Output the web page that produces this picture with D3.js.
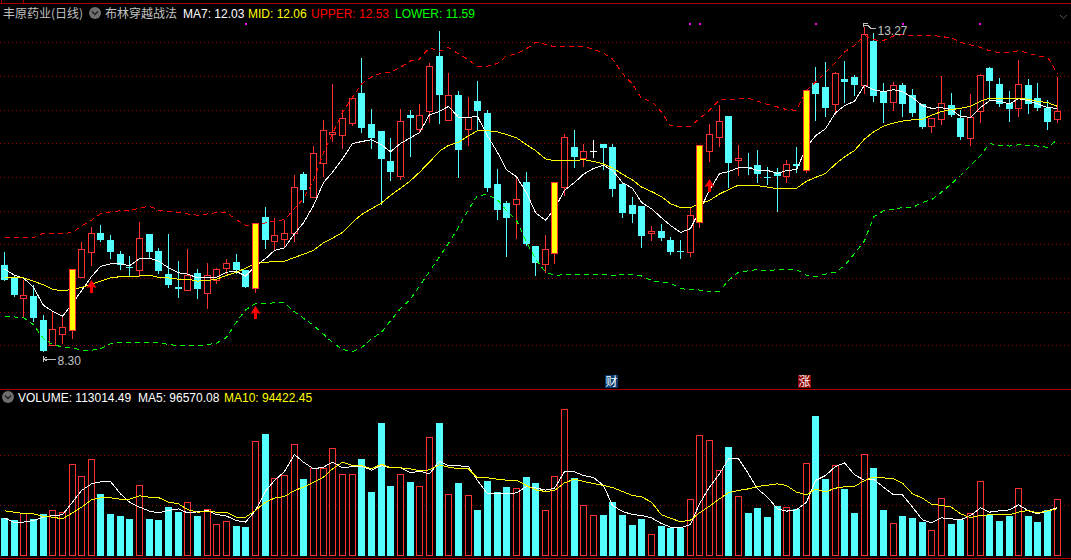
<!DOCTYPE html>
<html>
<head>
<meta charset="utf-8">
<script src="https://cdnjs.cloudflare.com/ajax/libs/d3/7.8.5/d3.min.js"></script>
<style>
    html, body { margin: 0; padding: 0; background: #000; overflow: hidden; }
    svg { display: block; }
    text { font-family: "Liberation Sans", Arial, sans-serif; font-size: 12px; }
    .cjk { font-family: "Noto Sans CJK SC", sans-serif; }
    .grid line { stroke: #960000; stroke-dasharray: 1,3; }
    .grid path { display: none; }
    .crisp { shape-rendering: crispEdges; }
</style>
</head>
<body>
<svg id="chart" width="1071" height="560"></svg>
<script>
let opens = [9.64,9.44,9.13,9.16,8.78,8.39,8.57,8.63,9.46,9.85,
    10.14,10.03,9.82,9.61,9.57,10.13,9.86,9.51,9.30,9.26,
    9.52,9.21,9.41,9.60,9.69,9.57,9.28,10.39,10.02,10.05,
    10.15,11.07,10.70,11.23,11.69,11.68,11.87,12.33,11.85,11.74,
    11.27,11.03,11.99,11.77,12.05,12.91,11.91,12.30,11.77,12.21,
    12.02,10.91,10.61,10.59,10.94,9.94,9.66,9.83,10.86,11.49,
    11.32,11.43,11.53,11.49,10.91,10.58,10.57,10.15,10.17,10.03,
    9.86,9.84,10.31,11.43,11.65,11.97,11.29,11.17,11.21,11.02,
    11.10,11.04,11.22,11.13,12.49,12.43,12.16,12.55,12.58,12.46,
    13.14,12.36,12.19,12.46,12.30,12.16,11.82,11.93,12.14,11.94,
    11.63,12.05,12.72,12.47,12.17,12.10,12.46,12.25,12.10,11.93];
let closes = [9.41,9.17,9.17,8.81,8.30,8.64,8.67,9.58,9.90,10.15,
    10.03,9.85,9.65,9.59,10.06,9.85,9.55,9.33,9.27,9.49,
    9.27,9.48,9.58,9.67,9.56,9.30,10.30,10.03,10.11,10.15,
    10.86,10.82,11.39,11.76,11.72,11.94,12.26,11.78,11.63,11.30,
    11.10,11.90,11.94,11.98,12.76,12.30,12.30,11.44,11.96,12.05,
    10.85,10.50,10.38,10.67,9.97,9.67,9.90,10.94,11.64,11.33,
    11.43,11.43,11.47,10.83,10.46,10.44,10.10,10.17,10.07,9.85,
    9.85,10.42,11.52,11.69,11.89,11.24,11.31,11.16,11.07,11.00,
    11.03,11.22,11.19,12.38,12.32,12.10,12.65,12.50,12.46,13.26,
    12.28,12.17,12.45,12.16,12.02,11.80,11.94,12.17,11.99,11.64,
    11.95,12.61,12.52,12.16,12.08,12.47,12.16,12.10,11.88,12.05];
let highs = [9.85,9.49,9.41,9.33,8.86,8.91,8.83,9.58,10.01,10.23,
    10.27,10.11,9.87,9.78,10.31,10.13,9.91,10.13,9.71,9.89,
    9.58,9.67,9.60,9.74,9.82,9.57,10.30,10.55,10.38,10.35,
    11.05,11.09,11.50,11.91,12.47,12.07,12.28,12.88,12.08,11.74,
    11.63,12.08,12.07,12.16,12.80,13.30,12.64,12.36,12.27,12.52,
    12.07,11.14,10.64,11.02,11.10,9.94,10.11,10.94,11.69,11.75,
    11.53,11.60,11.53,11.53,10.92,10.71,10.57,10.25,10.28,10.08,
    10.03,10.55,11.52,11.85,12.14,11.97,11.52,11.39,11.44,11.17,
    11.16,11.28,11.49,12.38,12.74,12.82,12.66,12.83,12.61,13.36,
    13.27,12.49,12.50,12.49,12.39,12.16,11.94,12.60,12.33,12.07,
    12.32,12.63,12.74,12.57,12.36,12.85,12.55,12.49,12.22,12.58];
let lows = [9.41,9.16,8.85,8.77,8.30,8.39,8.42,8.50,9.46,9.64,
    10.02,9.75,9.58,9.49,9.47,9.75,9.52,9.30,9.14,9.26,
    9.13,8.97,9.36,9.52,9.52,9.30,9.22,9.91,9.88,9.93,
    10.02,10.63,10.70,11.03,11.58,11.47,11.83,11.72,11.47,10.60,
    10.97,10.99,11.35,11.72,11.88,11.86,11.91,11.02,11.52,11.75,
    10.80,10.36,9.78,10.07,9.96,9.49,9.53,9.67,10.74,11.17,
    11.19,11.33,11.14,10.72,10.39,10.31,9.92,10.03,10.03,9.81,
    9.75,9.78,10.24,11.27,11.50,10.86,11.05,11.07,10.94,10.91,
    10.49,10.94,11.10,11.10,11.91,11.97,12.00,12.19,12.30,12.33,
    12.21,11.88,12.07,11.97,11.97,11.78,11.72,11.85,11.97,11.61,
    11.52,11.88,12.24,12.13,11.89,11.97,12.02,12.07,11.77,11.88];

let ma7 = [9.59,9.49,9.45,9.30,9.02,8.93,8.85,9.05,9.25,9.47,
    9.63,9.67,9.67,9.64,9.75,9.76,9.71,9.61,9.53,9.51,
    9.45,9.45,9.46,9.54,9.55,9.48,9.64,9.75,9.88,9.92,
    10.14,10.31,10.58,10.94,11.10,11.31,11.55,11.58,11.61,11.53,
    11.42,11.55,11.64,11.72,12.00,12.05,12.13,11.96,11.96,11.97,
    11.67,11.41,11.14,11.03,10.78,10.47,10.35,10.53,10.82,10.94,
    11.07,11.16,11.21,11.13,10.94,10.85,10.63,10.53,10.39,10.27,
    10.16,10.22,10.50,10.82,11.08,11.11,11.17,11.17,11.13,11.13,
    11.08,11.13,11.14,11.49,11.67,11.78,12.03,12.14,12.21,12.46,
    12.39,12.36,12.39,12.36,12.27,12.14,12.10,12.11,12.08,11.97,
    11.96,12.11,12.22,12.21,12.17,12.25,12.22,12.17,12.11,12.10];
let mid = [9.46,9.46,9.45,9.40,9.34,9.27,9.25,9.27,9.30,9.35,
    9.40,9.45,9.47,9.47,9.48,9.49,9.46,9.45,9.43,9.43,
    9.40,9.41,9.43,9.49,9.54,9.60,9.68,9.69,9.71,9.71,
    9.77,9.82,9.88,10.00,10.07,10.16,10.32,10.44,10.53,10.62,
    10.74,10.85,10.97,11.10,11.26,11.43,11.52,11.57,11.67,11.75,
    11.75,11.73,11.69,11.64,11.53,11.44,11.31,11.28,11.28,11.28,
    11.30,11.27,11.23,11.17,11.07,10.98,10.87,10.80,10.72,10.61,
    10.55,10.55,10.61,10.66,10.76,10.83,10.90,10.90,10.89,10.87,
    10.84,10.84,10.85,10.96,11.02,11.08,11.23,11.34,11.44,11.62,
    11.73,11.82,11.87,11.90,11.92,11.93,11.99,12.05,12.08,12.10,
    12.13,12.21,12.26,12.25,12.25,12.26,12.24,12.21,12.19,12.13];
let upper = [10.08,10.08,10.08,10.08,10.15,10.14,10.14,10.16,10.26,10.35,
    10.45,10.48,10.50,10.50,10.54,10.57,10.51,10.49,10.47,10.45,
    10.43,10.45,10.47,10.47,10.36,10.27,10.28,10.31,10.34,10.36,
    10.53,10.69,10.97,11.41,11.70,12.04,12.27,12.48,12.59,12.65,
    12.66,12.74,12.84,12.87,13.05,12.99,13.05,12.95,12.86,12.75,
    12.76,12.80,12.92,12.95,13.03,13.13,13.10,13.06,13.06,13.06,
    13.07,13.02,12.96,12.87,12.64,12.48,12.25,12.21,12.04,11.83,
    11.82,11.82,11.94,12.07,12.23,12.23,12.25,12.26,12.21,12.16,
    12.12,12.08,12.07,12.38,12.51,12.66,12.82,12.98,13.08,13.24,
    13.17,13.16,13.23,13.25,13.24,13.24,13.24,13.22,13.20,13.13,
    13.09,13.05,13.00,12.97,12.97,13.00,12.96,12.92,12.90,12.64];
let lower = [8.84,8.84,8.83,8.72,8.50,8.41,8.37,8.36,8.32,8.32,
    8.34,8.42,8.44,8.44,8.44,8.44,8.44,8.41,8.39,8.39,
    8.39,8.41,8.43,8.52,8.76,8.95,9.05,9.05,9.06,9.06,
    8.92,8.82,8.71,8.57,8.44,8.33,8.30,8.36,8.50,8.60,
    8.78,8.97,9.12,9.32,9.55,9.78,9.99,10.24,10.52,10.74,
    10.75,10.67,10.50,10.35,10.01,9.75,9.54,9.49,9.50,9.50,
    9.50,9.51,9.51,9.48,9.51,9.50,9.48,9.41,9.38,9.37,
    9.28,9.27,9.26,9.24,9.24,9.41,9.54,9.56,9.58,9.56,
    9.58,9.59,9.58,9.49,9.47,9.51,9.54,9.64,9.83,10.03,
    10.40,10.50,10.52,10.55,10.55,10.63,10.67,10.79,10.92,11.05,
    11.21,11.36,11.55,11.52,11.51,11.53,11.52,11.51,11.49,11.61];

let volume = [75000,71000,85600,72400,83000,90400,86400,182400,158400,192400,
    123000,83000,79000,73000,140400,73000,71000,97000,87000,106400,
    79000,92400,62400,68400,59000,57000,228400,243000,154400,160400,
    222400,153000,174400,174400,214400,162400,162400,193000,127000,265000,
    139000,162400,147000,138400,236400,265000,122400,145000,120400,91000,
    149000,127000,137000,134400,157000,145000,90400,158400,292400,155000,
    100400,80400,81000,107000,81000,61000,73000,42400,59000,55000,
    55000,112400,240400,230400,170400,217000,118400,85000,95000,77000,
    99000,96400,93000,184400,279000,153000,180400,133000,85000,202400,
    175000,91000,64400,79000,75000,67000,50400,114400,63000,71000,
    84400,148400,81000,69000,79000,134400,79000,67000,91000,113014];
let volMa5 = [75700,67000,67700,71000,77700,81000,82300,107700,131000,144300,
    148300,149000,124300,107700,97700,89700,86300,91000,94300,86300,
    88300,91000,83000,79700,71000,67700,91000,129700,151000,169000,
    203000,187700,174300,177700,187700,176300,179000,179700,171700,181000,
    176300,176300,166300,169700,164300,189700,180300,180300,179000,151000,
    124300,125700,124300,126300,139000,136300,131700,135700,168300,168300,
    161000,157000,141000,101000,89000,83000,81000,76300,65000,57700,
    56300,63000,104300,137700,164300,194300,194300,164300,134300,117700,
    94300,89700,92300,107700,151000,161000,179000,186300,162300,151700,
    153700,137700,122300,122300,97700,72300,66300,76300,74300,72300,
    81000,96300,87700,90300,92300,102300,90300,84300,90300,96570];
let volMa10 = [90300,87700,85000,84300,79000,77700,74300,86300,97700,112300,
    116300,116300,113700,113700,120300,117700,117000,107700,104300,93000,
    87700,89000,87700,87700,77700,77700,91000,107700,115700,119000,
    131000,137700,147700,157700,174300,187700,181000,181000,174300,183700,
    176300,176300,174300,170300,172300,182300,177700,174300,174300,156300,
    156300,153700,151700,151700,141000,132300,129000,131000,146300,153700,
    149000,145000,141000,137000,129000,121000,118300,107700,82300,75700,
    68300,71700,86300,99700,114300,127000,131000,134300,139000,141700,
    144300,141000,127700,122300,133700,128300,135700,138300,139000,151000,
    157700,156300,154300,145700,124300,115700,103700,101000,97700,84300,
    77000,81000,82300,82300,82300,87700,91000,86300,90300,94422];

let barCount = opens.length;
let breakouts = [7, 26, 57, 72, 83];       // yellow candles
let buySignals = [9, 26, 73];              // red up arrows
let buyPrices = [9.41, 9.00, 10.99];
let eventDots = [25, 71, 72, 84, 93, 101]; // magenta marks under the header
let eventPrice = 13.42;
let priceTicks = [13.13, 12.60, 12.07, 11.55, 11.02, 10.49, 9.97, 9.44, 8.91, 8.39];
let volumeTicks = [200000, 100000];

let header = [
    {text: 'MA7: 12.03', color: '#fff', x: 183},
    {text: 'MID: 12.06', color: '#ff0', x: 248},
    {text: 'UPPER: 12.53', color: '#f00', x: 311},
    {text: 'LOWER: 11.59', color: '#0f0', x: 395}
];
let volHeader = [
    {text: 'VOLUME: 113014.49', color: '#fff', x: 18},
    {text: 'MA5: 96570.08', color: '#fff', x: 138},
    {text: 'MA10: 94422.45', color: '#ff0', x: 224}
];
let badges = [
    {text: '财', bar: 63, fill: '#003a6e'},
    {text: '涨', bar: 83, fill: '#8c0000'}
];

let red = '#ff3232';
let cyan = '#54ffff';
let grey = '#c0c0c0';

let svg = d3.select('#chart');
svg.append('rect').attr('width', 1071).attr('height', 560).attr('fill', '#000');

let xScale = d3.scalePoint().domain(d3.range(barCount)).range([4.4, 1057.3]);
let yScale = d3.scaleLinear().domain([8.3, 13.3]).range([351, 31]);
let volScale = d3.scaleLinear().domain([0, 250000]).range([555.5, 430.5]);
let px = i => Math.floor(xScale(i)) + 0.5;

// frame lines
[3, 389, 558].forEach(y => {
    svg.append('line').attr('class', 'crisp')
        .attr('x1', 0).attr('x2', 1071).attr('y1', y + 0.5).attr('y2', y + 0.5)
        .attr('stroke', '#a80000');
});
[1, 23].forEach(x => {
    svg.append('line').attr('class', 'crisp')
        .attr('x1', x + 0.5).attr('x2', x + 0.5).attr('y1', 0).attr('y2', 3)
        .attr('stroke', '#a80000');
});

// grids, ticks snapped onto whole pixels so the dots stay one pixel wide
function drawGrid(scale, ticks) {
    let g = svg.append('g').attr('class', 'grid')
        .call(d3.axisRight(scale).tickValues(ticks).tickSize(1071).tickFormat(''));
    g.selectAll('.tick')
        .attr('transform', d => 'translate(0,' + (Math.round(scale(d) - 0.01) + 0.5) + ')');
    g.selectAll('text').remove();
}
drawGrid(yScale, priceTicks);
drawGrid(volScale, volumeTicks);

function candleColor(i) {
    if (closes[i] === opens[i]) return '#fff';
    return closes[i] > opens[i] ? red : cyan;
}

function drawCandle(g, i) {
    let x = px(i);
    let top = Math.round(yScale(Math.max(opens[i], closes[i])));
    let bottom = Math.round(yScale(Math.min(opens[i], closes[i])));
    let color = candleColor(i);
    let fat = breakouts.includes(i);
    g.append('line').attr('x1', x).attr('x2', x)
        .attr('y1', Math.round(yScale(highs[i]))).attr('y2', Math.round(yScale(lows[i])) + 1)
        .attr('stroke', color);
    if (color === cyan) {
        g.append('rect').attr('x', x - 3.5).attr('y', top)
            .attr('width', 7).attr('height', Math.max(bottom - top, 1))
            .attr('fill', cyan);
    } else if (color === red) {
        g.append('rect').attr('x', x - 3).attr('y', top + 0.5)
            .attr('width', 6).attr('height', Math.max(bottom - top, 1))
            .attr('fill', fat ? '#ff0' : '#000').attr('stroke', red);
    } else {
        g.append('line').attr('x1', x - 3.5).attr('x2', x + 3.5)
            .attr('y1', top + 0.5).attr('y2', top + 0.5).attr('stroke', color);
    }
}

let candles = svg.append('g').attr('class', 'crisp');
d3.range(barCount).filter(i => !breakouts.includes(i)).forEach(i => drawCandle(candles, i));

// price lines
let priceLine = d3.line().x((d, i) => px(i)).y(d => yScale(d) + 0.5);
let lineG = svg.append('g').attr('class', 'crisp').attr('fill', 'none');
lineG.append('path').attr('d', priceLine(ma7)).attr('stroke', '#fff');
lineG.append('path').attr('d', priceLine(mid)).attr('stroke', '#ff0');
lineG.append('path').attr('d', priceLine(upper)).attr('stroke', '#f00').attr('stroke-dasharray', '5,4');
lineG.append('path').attr('d', priceLine(lower)).attr('stroke', '#0f0').attr('stroke-dasharray', '5,4');

// breakout candles sit on top of the lines
let fatG = svg.append('g').attr('class', 'crisp');
breakouts.forEach(i => drawCandle(fatG, i));

// buy arrows
let arrows = svg.append('g');
buySignals.forEach((b, k) => {
    let x = px(b);
    let y = Math.round(yScale(buyPrices[k]));
    arrows.append('path')
        .attr('d', d3.line()([[x, y], [x + 5, y + 8], [x + 1.5, y + 7], [x + 1.5, y + 13],
            [x - 1.5, y + 13], [x - 1.5, y + 7], [x - 5, y + 8]]) + 'Z')
        .attr('fill', '#f00');
});

// magenta marks
svg.append('g').selectAll('rect').data(eventDots).enter().append('rect')
    .attr('x', d => Math.round(xScale(d)) - 1)
    .attr('y', d => Math.round(yScale(eventPrice)))
    .attr('width', 2).attr('height', 2)
    .attr('fill', '#f0f');

// high / low annotations
let lowIdx = d3.leastIndex(lows);
let highIdx = d3.greatestIndex(highs);
let lowX = px(lowIdx), lowY = Math.round(yScale(lows[lowIdx]));
let highX = px(highIdx), highY = Math.round(yScale(highs[highIdx]));
let note = svg.append('g').attr('class', 'crisp').attr('fill', 'none').attr('stroke', grey);
note.append('path').attr('d', `M${lowX},${lowY + 5}V${lowY + 11}M${lowX},${lowY + 8}H${lowX + 12}`);
note.append('path').attr('d', `M${lowX},${lowY + 8}l3,-2M${lowX},${lowY + 8}l3,2`);
note.append('path').attr('d', `M${highX - 1},${highY}V${highY - 4}H${highX + 3}M${highX - 1},${highY - 2}H${highX + 3}L${highX + 6},${highY + 1}H${highX + 11}`);
svg.append('text').attr('x', lowX + 14).attr('y', lowY + 14).attr('fill', grey).text('8.30');
svg.append('text').attr('x', highX + 13).attr('y', highY + 8).attr('fill', grey).text('13.27');

// volume bars
let volG = svg.append('g').attr('class', 'crisp');
volume.forEach((v, i) => {
    let x = px(i);
    let top = Math.round(volScale(v));
    if (closes[i] >= opens[i]) {
        volG.append('rect').attr('x', x - 3).attr('y', top + 0.5)
            .attr('width', 6).attr('height', 555.5 - top - 0.5)
            .attr('fill', '#000').attr('stroke', red);
    } else {
        volG.append('rect').attr('x', x - 3.5).attr('y', top)
            .attr('width', 7).attr('height', 556 - top)
            .attr('fill', cyan);
    }
});
let volLine = d3.line().x((d, i) => px(i)).y(d => volScale(d) + 0.5);
let volLines = svg.append('g').attr('class', 'crisp').attr('fill', 'none');
volLines.append('path').attr('d', volLine(volMa5)).attr('stroke', '#fff');
volLines.append('path').attr('d', volLine(volMa10)).attr('stroke', '#ff0');

// header texts
function icon(cx, cy) {
    svg.append('circle').attr('cx', cx).attr('cy', cy).attr('r', 6).attr('fill', '#6e6e6e');
    svg.append('path').attr('d', `M${cx - 3},${cy - 1.5}L${cx},${cy + 1.5}L${cx + 3},${cy - 1.5}`)
        .attr('fill', 'none').attr('stroke', '#222').attr('stroke-width', 1.5);
}
svg.append('text').attr('class', 'cjk').attr('x', 3).attr('y', 18).attr('fill', grey).text('丰原药业(日线)');
icon(95, 13);
svg.append('text').attr('class', 'cjk').attr('x', 105).attr('y', 18).attr('fill', grey).text('布林穿越战法');
svg.selectAll('text.hd').data(header).enter().append('text')
    .attr('class', 'hd').attr('x', d => d.x).attr('y', 18).attr('fill', d => d.color).text(d => d.text);
icon(8, 397);
svg.selectAll('text.vh').data(volHeader).enter().append('text')
    .attr('class', 'vh').attr('x', d => d.x).attr('y', 402).attr('fill', d => d.color).text(d => d.text);

// top right collapse mark
svg.append('path').attr('d', 'M1060,15L1063.5,18.5L1067,15').attr('fill', 'none').attr('stroke', '#555');

// event badges
badges.forEach(b => {
    let cx = Math.round(xScale(b.bar)) - 1.5;
    svg.append('rect').attr('x', cx - 6.5).attr('y', 375).attr('width', 13).attr('height', 13).attr('fill', b.fill);
    svg.append('text').attr('class', 'cjk').attr('x', cx).attr('y', 386)
        .attr('text-anchor', 'middle').attr('fill', '#fff').text(b.text);
});
</script>
</body>
</html>
